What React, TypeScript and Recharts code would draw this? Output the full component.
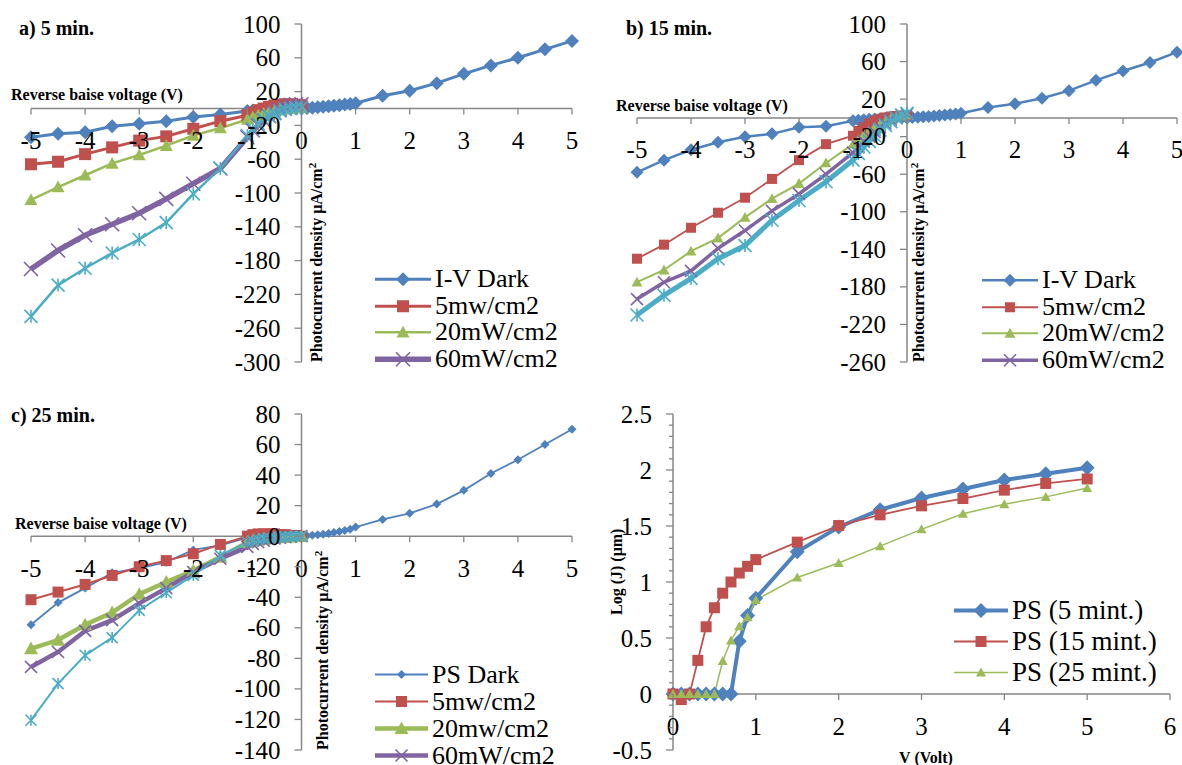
import { Legend, Line, LineChart, ReferenceLine, XAxis, YAxis } from "recharts";

const BLUE = "#4F81BD";
const RED = "#C0504D";
const GREEN = "#9BBB59";
const PURPLE = "#8064A2";
const CYAN = "#4BACC6";
const AXIS = "#868686";
const FONT = '"Liberation Serif", "Times New Roman", serif';

// voltages (V)
const reverseVolts = [-5, -4.5, -4, -3.5, -3, -2.5, -2, -1.5, -1, -0.9, -0.8, -0.7, -0.6, -0.5, -0.4, -0.3, -0.2, -0.1, 0];
const forwardVolts = [0.1, 0.2, 0.3, 0.4, 0.5, 0.6, 0.7, 0.8, 0.9, 1, 1.5, 2, 2.5, 3, 3.5, 4, 4.5, 5];
const darkVolts = [...reverseVolts, ...forwardVolts];
const logVolts = [0, 0.1, 0.2, 0.3, 0.4, 0.5, 0.6, 0.7, 0.8, 0.9, 1, 1.5, 2, 2.5, 3, 3.5, 4, 4.5, 5];

// a) 5 min.  photocurrent density (uA/cm2)
const darkA = [-34, -30, -28, -21, -18, -15, -10, -7, -3, -2.5, -2, -1.6, -1.2, -0.9, -0.6, -0.4, -0.2, -0.1, 0, 0.5, 1, 1.5, 2, 2.6, 3.2, 3.9, 4.6, 5.4, 6.3, 15, 21, 30, 41, 51, 60, 70, 80];
const mw5A = [-66, -63, -54, -46, -38, -33, -24, -15, -8, -5, -2, 0, 2, 3.5, 4.5, 5, 5, 4.5, 4];
const mw20A = [-108, -93, -79, -65, -55, -44, -32, -23, -13, -10, -8, -6, -4, -3, -2, -1, 0, 0.5, 1];
const mw60A = [-190, -168, -150, -137, -124, -107, -89, -71, -34, -26, -20, -14, -9, -5, -1, 2, 4, 5, 5];
const extraA = [-246, -209, -189, -171, -155, -135, -101, -71, -32, -24, -18, -13, -9, -6, -3, -1, 0, 1, 1.5];

// b) 15 min.
const darkB = [-58, -45, -34, -26, -20, -17, -10, -9, -3, -2.5, -2, -1.5, -1.2, -0.9, -0.6, -0.4, -0.2, -0.1, 0, 0.4, 0.8, 1.2, 1.6, 2, 2.5, 3, 3.6, 4.2, 5, 11, 15, 21, 29, 40, 50, 59, 70];
const mw5B = [-150, -135, -117, -101, -85, -65, -45, -28, -19, -14, -10, -6, -3, -1, 0.5, 1.5, 2, 2.5, 3];
const mw20B = [-175, -162, -142, -128, -106, -86, -70, -48, -28, -23, -18, -14, -10, -7, -4, -1, 1, 2, 3];
const mw60B = [-193, -175, -163, -139, -120, -99, -81, -60, -37, -31, -25, -20, -15, -10, -6, -2, 1, 3, 4];
const extraB = [-210, -189, -171, -150, -136, -109, -88, -68, -45, -38, -31, -25, -19, -13, -8, -4, 0, 3, 5];

// c) 25 min.
const darkC = [-58, -43.5, -34, -24, -21, -17, -9, -6, -1, -0.8, -0.6, -0.5, -0.4, -0.3, -0.2, -0.1, -0.1, 0, 0, 0.3, 0.6, 0.9, 1.3, 1.8, 2.4, 3, 3.8, 4.6, 6, 11, 15, 21, 30, 41, 50, 60, 70];
const mw5C = [-41.6, -36.6, -31.6, -25.7, -20, -16, -11.5, -5.4, 0, 1, 1.5, 1.5, 1.5, 1.5, 1, 1, 0.5, 0.5, 0];
const mw20C = [-73.6, -68, -58, -50, -38, -30, -22.5, -13.7, -4, -3, -2.5, -2, -1.5, -1.2, -1, -0.8, -0.5, -0.3, 0];
const mw60C = [-85.6, -75.8, -62, -55, -44, -34, -23.5, -14.8, -7, -5, -4, -3, -2, -1.5, -1, -0.6, -0.3, -0.1, 0];
const extraC = [-120.5, -96.5, -78, -66.4, -48.6, -37, -25.7, -12.6, -4, -3, -2, -1.5, -1, -0.8, -0.5, -0.3, -0.2, -0.1, 0];

// d) Log (J)
const ps5 = [0, 0, 0, 0, 0, 0, 0, 0, 0.47, 0.7, 0.855, 1.27, 1.49, 1.645, 1.75, 1.83, 1.91, 1.966, 2.02];
const ps15 = [0, -0.05, 0, 0.3, 0.6, 0.77, 0.9, 1.0, 1.08, 1.14, 1.2, 1.356, 1.504, 1.6, 1.68, 1.745, 1.82, 1.88, 1.92];
const ps25 = [0, 0, 0, 0, 0, 0, 0.295, 0.478, 0.605, 0.685, 0.84, 1.04, 1.17, 1.32, 1.47, 1.61, 1.695, 1.76, 1.84];

// ticks
const ivTicks = [-5, -4, -3, -2, -1, 0, 1, 2, 3, 4, 5];
const yTicksA = [100, 60, 20, -20, -60, -100, -140, -180, -220, -260, -300];
const yTicksB = [100, 60, 20, -20, -60, -100, -140, -180, -220, -260];
const yTicksC = [80, 60, 40, 20, 0, -20, -40, -60, -80, -100, -120, -140];
const xTicksD = [0, 1, 2, 3, 4, 5, 6];
const yTicksD = [2.5, 2, 1.5, 1, 0.5, 0, -0.5];
const yMinorD = [2.4, 2.3, 2.2, 2.1, 1.9, 1.8, 1.7, 1.6, 1.4, 1.3, 1.2, 1.1, 0.9, 0.8, 0.7, 0.6, 0.4, 0.3, 0.2, 0.1, -0.1, -0.2, -0.3, -0.4];

type Marker = "diamond" | "square" | "triangle" | "x" | "star";

interface SeriesCfg {
  name: string;
  volts: number[];
  values: number[];
  color: string;
  width: number;
  marker: Marker;
  size: number;
  inLegend: boolean;
}

const toPoints = (xs: number[], ys: number[]) => xs.map((v, i) => ({ v, j: ys[i] }));

function drawMarker(kind: Marker, cx: number, cy: number, s: number, color: string, key?: string) {
  const h = s / 2;
  switch (kind) {
    case "diamond":
      return <polygon key={key} points={`${cx},${cy - h} ${cx + h},${cy} ${cx},${cy + h} ${cx - h},${cy}`} fill={color} />;
    case "square":
      return <rect key={key} x={cx - h} y={cy - h} width={s} height={s} fill={color} />;
    case "triangle":
      return <polygon key={key} points={`${cx},${cy - h} ${cx + h},${cy + h * 0.8} ${cx - h},${cy + h * 0.8}`} fill={color} />;
    case "x":
      return (
        <g key={key} stroke={color} strokeWidth={1.6}>
          <line x1={cx - h} y1={cy - h} x2={cx + h} y2={cy + h} />
          <line x1={cx - h} y1={cy + h} x2={cx + h} y2={cy - h} />
        </g>
      );
    default:
      return (
        <g key={key} stroke={color} strokeWidth={1.6}>
          <line x1={cx - h} y1={cy - h} x2={cx + h} y2={cy + h} />
          <line x1={cx - h} y1={cy + h} x2={cx + h} y2={cy - h} />
          <line x1={cx} y1={cy - h} x2={cx} y2={cy + h} />
        </g>
      );
  }
}

interface PanelProps {
  left: number;
  top: number;
  w: number;
  h: number;
  margin: { top: number; right: number; bottom: number; left: number };
  xDomain: [number, number];
  xTicks: number[];
  yDomain: [number, number];
  yTicks: number[];
  yMinor?: number[];
  series: SeriesCfg[];
  legend: { left: number; top: number; rowH: number; fontSize: number; lineW: number };
}

function Panel(p: PanelProps) {
  // axes take 1px each so the plot area matches the margins
  const m = { ...p.margin, left: p.margin.left - 1, bottom: p.margin.bottom - 1 };
  const pw = p.w - p.margin.left - p.margin.right;
  const ph = p.h - p.margin.top - p.margin.bottom;
  const zeroY = p.margin.top + (ph * p.yDomain[1]) / (p.yDomain[1] - p.yDomain[0]);
  const zeroX = p.margin.left + (pw * (0 - p.xDomain[0])) / (p.xDomain[1] - p.xDomain[0]);
  const majors = new Set(p.yTicks);

  const xTick = (t: any) => (
    <g>
      <line x1={t.x} x2={t.x} y1={zeroY} y2={zeroY + 6} stroke={AXIS} strokeWidth={1.3} />
      <text x={t.x} y={zeroY + 32} textAnchor="middle" dominantBaseline="central" fontFamily={FONT} fontSize={25} fill="#000">
        {String(t.payload.value)}
      </text>
    </g>
  );

  const yTick = (t: any) => {
    const v = t.payload.value;
    const major = majors.has(v);
    return (
      <g>
        <line x1={zeroX - (major ? 7 : 4)} x2={zeroX} y1={t.y} y2={t.y} stroke={AXIS} strokeWidth={1.3} />
        {major ? (
          <text x={zeroX - 21} y={t.y} textAnchor="end" dominantBaseline="central" fontFamily={FONT} fontSize={25} fill="#000">
            {String(v)}
          </text>
        ) : null}
      </g>
    );
  };

  const lg = p.legend;
  const legendItems = p.series.filter((s) => s.inLegend);
  const legendContent = () => (
    <div style={{ fontFamily: FONT, fontSize: lg.fontSize, color: "#000" }}>
      {legendItems.map((s) => (
        <div key={s.name} style={{ display: "flex", alignItems: "center", height: lg.rowH }}>
          <svg width={lg.lineW} height={lg.rowH} style={{ flex: "none", overflow: "visible" }}>
            <line x1={0} x2={lg.lineW} y1={lg.rowH / 2} y2={lg.rowH / 2} stroke={s.color} strokeWidth={s.width} />
            {drawMarker(s.marker, lg.lineW / 2, lg.rowH / 2, s.size, s.color)}
          </svg>
          <span style={{ marginLeft: 4, whiteSpace: "nowrap", lineHeight: 1 }}>{s.name}</span>
        </div>
      ))}
    </div>
  );

  return (
    <div style={{ position: "absolute", left: p.left, top: p.top }}>
      <LineChart width={p.w} height={p.h} margin={m}>
        <XAxis type="number" dataKey="v" domain={p.xDomain} ticks={p.xTicks} interval={0} height={1} axisLine={false} tickLine={false} tick={xTick} />
        <YAxis
          type="number"
          domain={p.yDomain}
          ticks={[...p.yTicks, ...(p.yMinor ?? [])]}
          interval={0}
          width={1}
          axisLine={false}
          tickLine={false}
          tick={yTick}
        />
        <ReferenceLine y={0} stroke={AXIS} strokeWidth={1.5} />
        <ReferenceLine x={0} stroke={AXIS} strokeWidth={1.5} />
        {p.series.map((s) => (
          <Line
            key={s.name}
            data={toPoints(s.volts, s.values)}
            dataKey="j"
            name={s.name}
            type="linear"
            stroke={s.color}
            strokeWidth={s.width}
            legendType={s.inLegend ? "line" : "none"}
            dot={(d: any) => drawMarker(s.marker, d.cx, d.cy, s.size, s.color, `${s.name}-${d.index}`)}
            activeDot={false}
            isAnimationActive={false}
          />
        ))}
        <Legend
          layout="vertical"
          align="center"
          verticalAlign="middle"
          wrapperStyle={{ left: lg.left, top: lg.top, width: 240 }}
          content={legendContent}
        />
      </LineChart>
    </div>
  );
}

const seriesA: SeriesCfg[] = [
  { name: "I-V Dark", volts: darkVolts, values: darkA, color: BLUE, width: 3, marker: "diamond", size: 14, inLegend: true },
  { name: "5mw/cm2", volts: reverseVolts, values: mw5A, color: RED, width: 3, marker: "square", size: 12, inLegend: true },
  { name: "20mW/cm2", volts: reverseVolts, values: mw20A, color: GREEN, width: 2.5, marker: "triangle", size: 13, inLegend: true },
  { name: "60mW/cm2", volts: reverseVolts, values: mw60A, color: PURPLE, width: 5.5, marker: "x", size: 14, inLegend: true },
  { name: "100mW/cm2", volts: reverseVolts, values: extraA, color: CYAN, width: 2.5, marker: "star", size: 13, inLegend: false },
];

const seriesB: SeriesCfg[] = [
  { name: "I-V Dark", volts: darkVolts, values: darkB, color: BLUE, width: 2.5, marker: "diamond", size: 13, inLegend: true },
  { name: "5mw/cm2", volts: reverseVolts, values: mw5B, color: RED, width: 1.8, marker: "square", size: 10, inLegend: true },
  { name: "20mW/cm2", volts: reverseVolts, values: mw20B, color: GREEN, width: 2, marker: "triangle", size: 11, inLegend: true },
  { name: "60mW/cm2", volts: reverseVolts, values: mw60B, color: PURPLE, width: 3.5, marker: "x", size: 12, inLegend: true },
  { name: "100mW/cm2", volts: reverseVolts, values: extraB, color: CYAN, width: 5, marker: "star", size: 13, inLegend: false },
];

const seriesC: SeriesCfg[] = [
  { name: "PS Dark", volts: darkVolts, values: darkC, color: BLUE, width: 1.8, marker: "diamond", size: 9, inLegend: true },
  { name: "5mw/cm2", volts: reverseVolts, values: mw5C, color: RED, width: 2, marker: "square", size: 11, inLegend: true },
  { name: "20mw/cm2", volts: reverseVolts, values: mw20C, color: GREEN, width: 4.5, marker: "triangle", size: 14, inLegend: true },
  { name: "60mW/cm2", volts: reverseVolts, values: mw60C, color: PURPLE, width: 4.5, marker: "x", size: 12, inLegend: true },
  { name: "100mW/cm2", volts: reverseVolts, values: extraC, color: CYAN, width: 2, marker: "star", size: 11, inLegend: false },
];

const seriesD: SeriesCfg[] = [
  { name: "PS (5 mint.)", volts: logVolts, values: ps5, color: BLUE, width: 4, marker: "diamond", size: 15, inLegend: true },
  { name: "PS (15 mint.)", volts: logVolts, values: ps15, color: RED, width: 1.8, marker: "square", size: 11, inLegend: true },
  { name: "PS (25 mint.)", volts: logVolts, values: ps25, color: GREEN, width: 1.5, marker: "triangle", size: 10, inLegend: true },
];

const boldText = { fontFamily: FONT, fontWeight: 700, fill: "#000" } as const;

export default function App() {
  return (
    <div style={{ position: "absolute", left: 0, top: 0, width: 1182, height: 765, background: "#fff", overflow: "hidden" }}>
      <Panel
        left={0}
        top={0}
        w={600}
        h={380}
        margin={{ top: 24, right: 28, bottom: 18, left: 31 }}
        xDomain={[-5, 5]}
        xTicks={ivTicks}
        yDomain={[-300, 100]}
        yTicks={yTicksA}
        series={seriesA}
        legend={{ left: 375, top: 266, rowH: 26.5, fontSize: 26, lineW: 56 }}
      />
      <Panel
        left={600}
        top={0}
        w={582}
        h={380}
        margin={{ top: 24, right: 5, bottom: 18, left: 37 }}
        xDomain={[-5, 5]}
        xTicks={ivTicks}
        yDomain={[-260, 100]}
        yTicks={yTicksB}
        series={seriesB}
        legend={{ left: 382, top: 267, rowH: 26.5, fontSize: 26, lineW: 56 }}
      />
      <Panel
        left={0}
        top={390}
        w={600}
        h={375}
        margin={{ top: 24, right: 28, bottom: 15, left: 31 }}
        xDomain={[-5, 5]}
        xTicks={ivTicks}
        yDomain={[-140, 80]}
        yTicks={yTicksC}
        series={seriesC}
        legend={{ left: 375, top: 271, rowH: 27, fontSize: 26, lineW: 53 }}
      />
      <Panel
        left={600}
        top={390}
        w={582}
        h={375}
        margin={{ top: 24, right: 12, bottom: 15, left: 73 }}
        xDomain={[0, 6]}
        xTicks={xTicksD}
        yDomain={[-0.5, 2.5]}
        yTicks={yTicksD}
        yMinor={yMinorD}
        series={seriesD}
        legend={{ left: 354, top: 205, rowH: 31, fontSize: 27, lineW: 54 }}
      />
      <svg width={1182} height={765} style={{ position: "absolute", left: 0, top: 0, pointerEvents: "none" }}>
        <text x={19} y={28} dominantBaseline="central" fontSize={20} {...boldText}>a) 5 min.</text>
        <text x={626} y={28} dominantBaseline="central" fontSize={20} {...boldText}>b) 15 min.</text>
        <text x={11} y={415} dominantBaseline="central" fontSize={20} {...boldText}>c) 25 min.</text>
        <text x={11} y={94} dominantBaseline="central" fontSize={16} {...boldText}>Reverse baise voltage (V)</text>
        <text x={616} y={105} dominantBaseline="central" fontSize={16} {...boldText}>Reverse baise voltage (V)</text>
        <text x={15} y={523} dominantBaseline="central" fontSize={16} {...boldText}>Reverse baise voltage (V)</text>
        <text transform="translate(322,362) rotate(-90)" fontSize={16} {...boldText}>
          Photocurrent density μA/cm<tspan fontSize={11} dy={-6}>2</tspan>
        </text>
        <text transform="translate(924,362) rotate(-90)" fontSize={16} {...boldText}>
          Photocurrent density μA/cm<tspan fontSize={11} dy={-6}>2</tspan>
        </text>
        <text transform="translate(328,750) rotate(-90)" fontSize={16} {...boldText}>
          Photocurrent density μA/cm<tspan fontSize={11} dy={-6}>2</tspan>
        </text>
        <text transform="translate(622,615) rotate(-90)" fontSize={16} {...boldText}>Log (J) (μm)</text>
        <text x={926} y={757} textAnchor="middle" dominantBaseline="central" fontSize={16} {...boldText}>V (Volt)</text>
      </svg>
    </div>
  );
}
